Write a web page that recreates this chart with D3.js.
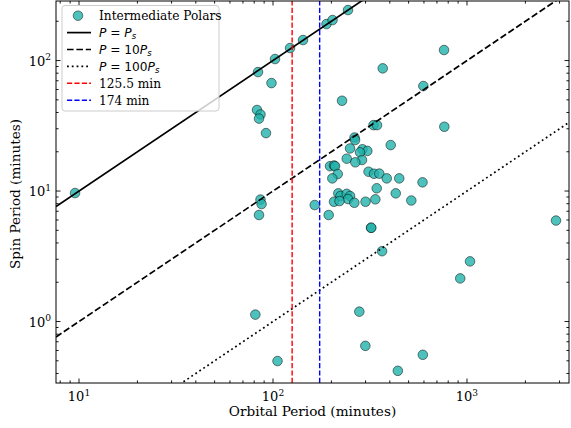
<!DOCTYPE html>
<html>
<head>
<meta charset="utf-8">
<script src="https://cdn.jsdelivr.net/npm/d3@7"></script>
<style>
  html, body { margin: 0; padding: 0; background: #fff; }
  svg { display: block; }
</style>
</head>
<body>
<div id="chart"></div>
<script>
// ---- data (minutes) ----
const orbitalPeriod = [
  9.54, 83.7, 102.4, 98.2, 122.4, 142.8, 188.7, 202.7, 243.6,
  82.7, 86.2, 84.7, 92.0, 86.2, 87.3, 84.7, 81.1, 105.5,
  164.1, 193.7, 761.5, 367.8, 595.6, 226.9, 329.8, 343.8, 764.1,
  263.2, 264.8, 404.4, 249.5, 289.3, 306.4, 280.9, 239.9, 287.6, 265.7,
  196.8, 206.3, 208.8, 215.6, 202.2, 310.8, 331.7, 353.2, 385.7, 447.4, 589.9,
  342.5, 217.1, 222.8, 239.9, 249.5, 243.6, 206.3, 220.2, 262.6, 299.9, 337.0,
  429.2, 516.4, 2876, 320.2, 321.0, 364.8, 1036.6, 922.8, 278.6, 299.2, 592.0, 440.0
];
const spinPeriod = [
  9.65, 81.6, 102.7, 67.2, 124.7, 143.6, 190.4, 204.3, 243.8,
  41.8, 38.6, 35.9, 27.8, 8.6, 7.95, 6.55, 1.13, 0.498,
  7.81, 6.55, 120.4, 87.1, 63.8, 49.2, 32.0, 32.0, 31.1,
  25.7, 24.6, 22.5, 21.2, 20.9, 20.3, 19.8, 17.7, 17.3, 16.6,
  15.5, 15.7, 15.5, 13.5, 12.5, 14.06, 13.57, 13.6, 12.5, 12.5, 11.66,
  10.5, 9.6, 9.16, 9.52, 9.16, 8.68, 8.28, 8.38, 8.13, 8.28, 8.64,
  9.6, 8.46, 5.94, 5.23, 5.23, 3.46, 2.89, 2.14, 1.19, 0.651, 0.556, 0.419
];
const ratioLines = [1, 10, 100];           // P = k * Ps
const ratioDash = ["none", "dashed", "dotted"];
const periodGap = [125.5, 174];            // vertical markers (min)
const periodGapColor = ["#ff0000", "#0000ff"];
const xTickValues = [10, 100, 1000];
const yTickValues = [1, 10, 100];
const xDomain = [7.61, 3356];
const yDomain = [0.338, 286];

// ---- layout ----
const W = 571, H = 428;
const plot = { left: 56, right: 569, top: 1, bottom: 383 };

const svg = d3.select("#chart").append("svg")
  .attr("width", W).attr("height", H);

const x = d3.scaleLog().domain(xDomain).range([plot.left, plot.right]);
const y = d3.scaleLog().domain(yDomain).range([plot.bottom, plot.top]);

svg.append("defs").append("clipPath").attr("id", "clip")
  .append("rect")
  .attr("x", plot.left).attr("y", plot.top)
  .attr("width", plot.right - plot.left).attr("height", plot.bottom - plot.top);

const dashArr = { none: null, dashed: "6.6,2.8", dotted: "1.8,3" };
const vDash = "5.2,2.2";

// ---- scatter ----
const pts = orbitalPeriod.map((o, i) => ({ o, s: spinPeriod[i] }));
svg.append("g").attr("clip-path", "url(#clip)")
  .selectAll("circle").data(pts).enter().append("circle")
  .attr("cx", d => x(d.o)).attr("cy", d => y(d.s)).attr("r", 4.8)
  .attr("fill", "#20b2aa").attr("fill-opacity", 0.8)
  .attr("stroke", "#000").attr("stroke-opacity", 0.55).attr("stroke-width", 0.9);

// ---- lines ----
const lg = svg.append("g").attr("clip-path", "url(#clip)");
ratioLines.forEach((k, i) => {
  lg.append("line")
    .attr("x1", x(xDomain[0])).attr("y1", y(xDomain[0] / k))
    .attr("x2", x(xDomain[1])).attr("y2", y(xDomain[1] / k))
    .attr("stroke", "#000").attr("stroke-width", 1.7)
    .attr("stroke-dasharray", dashArr[ratioDash[i]]);
});
periodGap.forEach((p, i) => {
  lg.append("line")
    .attr("x1", x(p)).attr("x2", x(p))
    .attr("y1", y(yDomain[0])).attr("y2", y(yDomain[1]))
    .attr("stroke", periodGapColor[i]).attr("stroke-width", 1.4)
    .attr("stroke-dasharray", vDash);
});

// ---- axes (ticks inward on all sides) ----
const serif = "DejaVu Serif";
function minorTicks(domain) {
  const out = [];
  const lo = Math.floor(Math.log10(domain[0])), hi = Math.ceil(Math.log10(domain[1]));
  for (let e = lo; e <= hi; e++) for (let m = 2; m <= 9; m++) {
    const v = m * Math.pow(10, e);
    if (v >= domain[0] && v <= domain[1]) out.push(v);
  }
  return out;
}
const ax = svg.append("g");
const xMinor = minorTicks(xDomain), yMinor = minorTicks(yDomain);
function tick(x1, y1, x2, y2) {
  ax.append("line").attr("x1", x1).attr("y1", y1).attr("x2", x2).attr("y2", y2)
    .attr("stroke", "#000").attr("stroke-width", 0.9);
}
xTickValues.forEach(v => { const px = x(v);
  tick(px, plot.bottom, px, plot.bottom - 4.5); tick(px, plot.top, px, plot.top + 4.5); });
xMinor.forEach(v => { const px = x(v);
  tick(px, plot.bottom, px, plot.bottom - 2.6); tick(px, plot.top, px, plot.top + 2.6); });
yTickValues.forEach(v => { const py = y(v);
  tick(plot.left, py, plot.left + 4.5, py); tick(plot.right, py, plot.right - 4.5, py); });
yMinor.forEach(v => { const py = y(v);
  tick(plot.left, py, plot.left + 2.6, py); tick(plot.right, py, plot.right - 2.6, py); });

ax.append("rect")
  .attr("x", plot.left).attr("y", plot.top)
  .attr("width", plot.right - plot.left).attr("height", plot.bottom - plot.top)
  .attr("fill", "none").attr("stroke", "#000").attr("stroke-width", 1);

const fs = 13;
xTickValues.forEach(v => {
  const t = ax.append("text").attr("x", x(v)).attr("y", plot.bottom + 18)
    .attr("text-anchor", "middle").attr("font-family", serif).attr("font-size", fs);
  t.append("tspan").text("10");
  t.append("tspan").attr("dy", -5.5).attr("font-size", fs * 0.7).text(Math.round(Math.log10(v)));
});
yTickValues.forEach(v => {
  const t = ax.append("text").attr("x", plot.left - 5).attr("y", y(v) + 5)
    .attr("text-anchor", "end").attr("font-family", serif).attr("font-size", fs);
  t.append("tspan").text("10");
  t.append("tspan").attr("dy", -5.5).attr("font-size", fs * 0.7).text(Math.round(Math.log10(v)));
});

svg.append("text")
  .attr("x", (plot.left + plot.right) / 2).attr("y", 416)
  .attr("text-anchor", "middle").attr("font-family", serif).attr("font-size", 13.6)
  .text("Orbital Period (minutes)");
svg.append("text")
  .attr("transform", `translate(20,${(plot.top + plot.bottom) / 2 + 2}) rotate(-90)`)
  .attr("text-anchor", "middle").attr("font-family", serif).attr("font-size", 13.6)
  .text("Spin Period (minutes)");

// ---- legend ----
const lfs = 12.2;
const leg = svg.append("g");
leg.append("rect").attr("x", 62).attr("y", 5.5).attr("width", 157).attr("height", 105.5)
  .attr("rx", 3).attr("fill", "#fff").attr("fill-opacity", 0.8)
  .attr("stroke", "#cccccc").attr("stroke-width", 1);
const rowY = i => 15.7 + i * 16.9;
const hx0 = 67, hx1 = 91, tx = 99;
leg.append("circle").attr("cx", 78).attr("cy", rowY(0)).attr("r", 4.8)
  .attr("fill", "#20b2aa").attr("fill-opacity", 0.8)
  .attr("stroke", "#000").attr("stroke-opacity", 0.55).attr("stroke-width", 0.9);
leg.append("text").attr("x", tx).attr("y", rowY(0) + 4.3)
  .attr("font-family", serif).attr("font-size", lfs).text("Intermediate Polars");

const mathLabels = ["", "10", "100"];
ratioLines.forEach((k, i) => {
  const ry = rowY(i + 1);
  leg.append("line").attr("x1", hx0).attr("x2", hx1).attr("y1", ry).attr("y2", ry)
    .attr("stroke", "#000").attr("stroke-width", 1.7)
    .attr("stroke-dasharray", dashArr[ratioDash[i]]);
  const t = leg.append("text").attr("x", tx).attr("y", ry + 4.3)
    .attr("font-family", "DejaVu Sans").attr("font-size", lfs);
  t.append("tspan").attr("font-style", "italic").text("P");
  t.append("tspan").text(" = " + mathLabels[i]);
  t.append("tspan").attr("font-style", "italic").text("P");
  t.append("tspan").attr("font-style", "italic").attr("font-size", lfs * 0.7).attr("dy", 2.5).text("s");
});
periodGap.forEach((p, i) => {
  const ry = rowY(i + 4);
  leg.append("line").attr("x1", hx0).attr("x2", hx1).attr("y1", ry).attr("y2", ry)
    .attr("stroke", periodGapColor[i]).attr("stroke-width", 1.4)
    .attr("stroke-dasharray", vDash);
  leg.append("text").attr("x", tx).attr("y", ry + 4.3)
    .attr("font-family", serif).attr("font-size", lfs).text(p + " min");
});
</script>
</body>
</html>
